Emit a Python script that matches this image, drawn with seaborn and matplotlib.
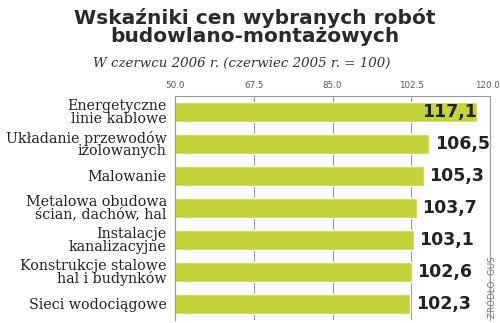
import matplotlib
matplotlib.use("Agg")
import matplotlib.pyplot as plt
import matplotlib.transforms as mtransforms
import seaborn as sns
import pandas as pd

categories = ["Energetyczne\nlinie kablowe", "Układanie przewodów\nizolowanych", "Malowanie",
              "Metalowa obudowa\nścian, dachów, hal", "Instalacje\nkanalizacyjne",
              "Konstrukcje stalowe\nhal i budynków", "Sieci wodociągowe"]
values = [117.1, 106.5, 105.3, 103.7, 103.1, 102.6, 102.3]
value_labels = ["117,1", "106,5", "105,3", "103,7", "103,1", "102,6", "102,3"]
ticks = [50.0, 67.5, 85.0, 102.5, 120.0]

sns.set_theme(style="white")
plt.rcParams['font.family'] = ['DejaVu Sans']

df = pd.DataFrame({"cat": categories, "val": values})
fig = plt.figure(figsize=(5.0, 3.23), dpi=100)
ax = fig.add_axes([0.35, 0.01, 0.63, 0.693])
sns.barplot(data=df, x="val", y="cat", color="#c3d43b", width=0.64, ax=ax, saturation=1)
ax.set_xlim(50, 120)
ax.set_xticks(ticks)
ax.set_xticklabels([f"{t:.1f}" for t in ticks[:-1]] + [""], fontsize=6.3, color="#555555")
ax.xaxis.tick_top()
ax.tick_params(axis='x', length=0, pad=4)
ax.tick_params(axis='y', length=0, pad=6)
trans = mtransforms.blended_transform_factory(ax.transData, ax.transAxes)
ax.text(ticks[-1] + 2.2, 1.0, f"{ticks[-1]:.1f}", transform=trans + mtransforms.ScaledTranslation(0, 4/72, fig.dpi_scale_trans),
        ha='right', va='bottom', fontsize=6.3, color="#555555", clip_on=False)
ax.set_xlabel("")
ax.set_ylabel("")
ax.grid(axis='x', color="#999999", linewidth=0.8)
ax.set_axisbelow(True)
for s in ax.spines.values():
    s.set_color("#999999")
    s.set_linewidth(0.8)
ax.spines['bottom'].set_visible(False)
for lab in ax.get_yticklabels():
    lab.set_fontsize(10.3)
    lab.set_color("#222222")
    lab.set_family("DejaVu Serif")
    lab.set_linespacing(0.85)
    lab.set_ha("right")

for i, (v, t) in enumerate(zip(values, value_labels)):
    if v > 110:
        ax.text(v, i, t, ha='right', va='center', fontsize=12.5, fontweight='bold', color="#222222")
    else:
        ax.text(v + 1.2, i, t, ha='left', va='center', fontsize=12.5, fontweight='bold', color="#222222")

fig.text(0.51, 0.975, "Wskaźniki cen wybranych robót\nbudowlano-montażowych", ha='center', va='top',
         fontsize=14.5, fontweight='heavy', color="#2a2a2a", linespacing=0.95)
fig.text(0.483, 0.805, "W czerwcu 2006 r. (czerwiec 2005 r. = 100)", ha='center', va='center',
         fontsize=9.6, style='italic', family='DejaVu Serif', color="#333333")
fig.text(0.985, 0.11, "ŹRÓDŁO: GUS", rotation=90, ha='center', va='center', fontsize=6.3, color="#777777")
fig.savefig("out.png", dpi=100)
